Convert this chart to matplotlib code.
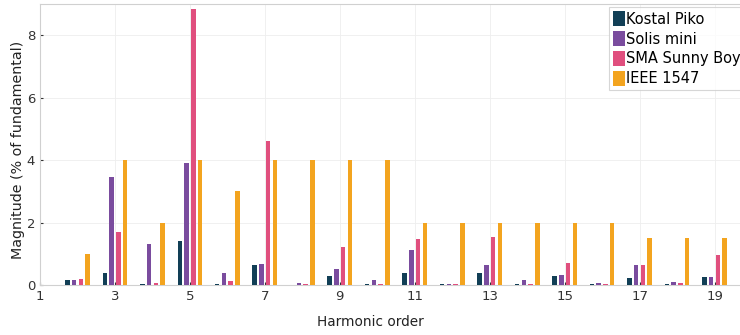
import numpy as np
import matplotlib
matplotlib.use('Agg')
import matplotlib.pyplot as plt

# harmonic magnitudes, % of fundamental
harmonics = list(range(2, 20))
kostal = [0.15, 0.40, 0.02, 1.42, 0.02, 0.65, 0.01, 0.30, 0.02, 0.40, 0.02, 0.38, 0.02, 0.28, 0.02, 0.22, 0.02, 0.25]
solis  = [0.17, 3.45, 1.30, 3.90, 0.37, 0.68, 0.08, 0.52, 0.15, 1.12, 0.03, 0.63, 0.15, 0.33, 0.07, 0.63, 0.10, 0.27]
sma    = [0.18, 1.70, 0.08, 8.85, 0.12, 4.60, 0.04, 1.22, 0.03, 1.47, 0.02, 1.55, 0.04, 0.70, 0.03, 0.65, 0.05, 0.97]
ieee   = [1.0, 4.0, 2.0, 4.0, 3.0, 4.0, 4.0, 4.0, 4.0, 2.0, 2.0, 2.0, 2.0, 2.0, 2.0, 1.5, 1.5, 1.5]

names = ['Kostal Piko', 'Solis mini', 'SMA Sunny Boy', 'IEEE 1547']
colors = ['#123f56', '#7a4c9e', '#e04f7e', '#f3a41f']
series = [kostal, solis, sma, ieee]

fig = plt.figure(figsize=(7.4, 3.35), dpi=100)
ax = fig.add_axes([40/740, 50/335, 712/740, 281/335])

x = np.array(harmonics, dtype=float)
step = 0.18
offsets = [-1.5*step, -0.5*step, 0.5*step, 1.5*step]
for vals, off, c, n in zip(series, offsets, colors, names):
    ax.bar(x + off, vals, width=0.12, color=c, label=n, zorder=3)

ax.set_xlim(1, 20)
ax.set_ylim(0, 9)
ax.set_xticks(range(1, 20, 2))
ax.set_yticks([0, 2, 4, 6, 8])
ax.tick_params(labelsize=9.5, colors='#333333', length=2, direction='in')
for s in ax.spines.values():
    s.set_color('#d0d0d0')
    s.set_linewidth(0.8)
ax.grid(True, color='#eeeeee', linewidth=0.6, zorder=0)

ax.set_xlabel('Harmonic order', fontsize=9.8, color='#222222')
ax.xaxis.set_label_coords((370-40)/712, -0.105)
ax.set_ylabel('Magnitude (% of fundamental)', fontsize=10.3, color='#222222')
ax.yaxis.set_label_coords(-0.021, 0.48)

leg = fig.legend(loc='upper left', bbox_to_anchor=(609/740, 1 - 7/335), fontsize=10.5,
                 handlelength=0.8, handleheight=1.2, handletextpad=0.1, labelspacing=0.3,
                 borderpad=0.3, borderaxespad=0, frameon=True, fancybox=False)
leg.get_frame().set_edgecolor('#cccccc')
leg.get_frame().set_linewidth(0.8)

fig.savefig('out.png', dpi=100)
